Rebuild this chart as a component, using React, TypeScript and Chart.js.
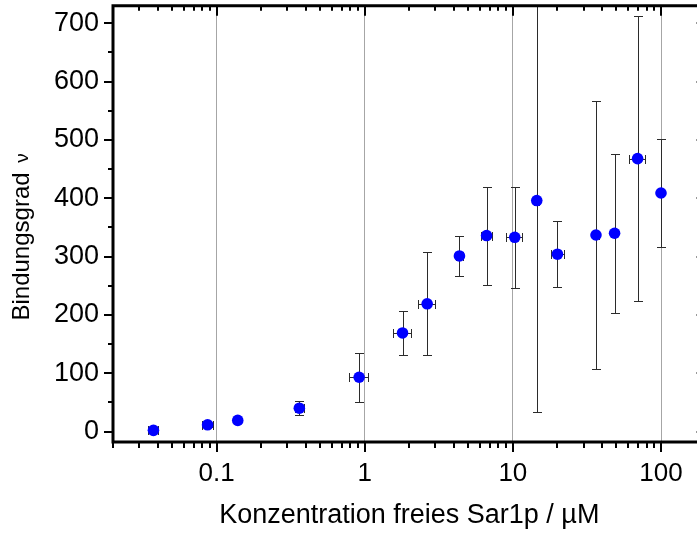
import React, { useEffect, useRef } from 'react';
import { Chart, registerables } from 'chart.js';

Chart.register(...registerables);

// ---- data ----
const xValues = [0.0375, 0.087, 0.139, 0.362, 0.917, 1.8, 2.64, 4.36, 6.65, 10.3, 14.5, 20.0, 36.4, 48.6, 69.5, 100];
const yValues = [2, 11.5, 19, 40, 93, 169, 219, 301, 336, 333, 396, 304, 337, 340, 468, 409];
const xErrors = [0.003, 0.0075, 0, 0.025, 0.13, 0.25, 0.34, 0.25, 0.6, 1.28, 0.6, 2.0, 1.5, 2.0, 9.0, 3.0];
const yErrors = [2, 3, 0, 12, 42, 37, 88, 35, 84, 87, 362, 57, 230, 136, 245, 92];

const xTickValues = [0.1, 1, 10, 100];
const xTickLabels = ['0.1', '1', '10', '100'];
const yTickValues = [0, 100, 200, 300, 400, 500, 600, 700];
const yTickLabels = ['0', '100', '200', '300', '400', '500', '600', '700'];
const yMinorTickValues = [50, 150, 250, 350, 450, 550, 650];
const xMinorMantissas = [2, 3, 4, 5, 6, 7, 8, 9];
const xMinorDecades = [0.01, 0.1, 1, 10, 100];

const xTitle = 'Konzentration freies Sar1p / µM';
const yTitleMain = 'Bindungsgrad';
const yTitleSymbol = 'ν';

const X_MIN = 0.02;
const X_MAX = 200;
const Y_MIN = -18;
const Y_MAX = 730;

const FONT = "'Liberation Sans', Arial, sans-serif";
const CANVAS_W = 712;
const CANVAS_H = 535;

const errorBarPlugin = {
  id: 'errorBars',
  beforeDatasetsDraw(chart: any) {
    const { ctx, chartArea, scales } = chart;
    const xs = scales.x;
    const ys = scales.y;
    ctx.save();
    ctx.beginPath();
    ctx.rect(chartArea.left, chartArea.top, chartArea.right - chartArea.left, chartArea.bottom - chartArea.top);
    ctx.clip();
    ctx.strokeStyle = '#2b2b2b';
    ctx.lineWidth = 1;
    const cap = 4.5;
    const seg = (x1: number, y1: number, x2: number, y2: number) => {
      ctx.beginPath();
      ctx.moveTo(x1, y1);
      ctx.lineTo(x2, y2);
      ctx.stroke();
    };
    xValues.forEach((xv, i) => {
      const px = Math.round(xs.getPixelForValue(xv)) + 0.5;
      const py = Math.round(ys.getPixelForValue(yValues[i])) + 0.5;
      const ye = yErrors[i];
      if (ye > 0) {
        const t = Math.round(ys.getPixelForValue(yValues[i] + ye)) + 0.5;
        const b = Math.round(ys.getPixelForValue(yValues[i] - ye)) + 0.5;
        seg(px, t, px, b);
        seg(px - cap, t, px + cap, t);
        seg(px - cap, b, px + cap, b);
      }
      const xe = xErrors[i];
      if (xe > 0) {
        const l = Math.round(xs.getPixelForValue(xv - xe)) + 0.5;
        const r = Math.round(xs.getPixelForValue(xv + xe)) + 0.5;
        seg(l, py, r, py);
        seg(l, py - cap, l, py + cap);
        seg(r, py - cap, r, py + cap);
      }
    });
    ctx.restore();
  },
};

const framePlugin = {
  id: 'frameTicks',
  afterDraw(chart: any) {
    const { ctx, chartArea, scales } = chart;
    const xs = scales.x;
    const ys = scales.y;
    const { left, right, top, bottom } = chartArea;
    ctx.save();
    ctx.strokeStyle = '#000';
    ctx.lineCap = 'butt';
    ctx.lineWidth = 2;
    const seg = (x1: number, y1: number, x2: number, y2: number) => {
      ctx.beginPath();
      ctx.moveTo(x1, y1);
      ctx.lineTo(x2, y2);
      ctx.stroke();
    };
    const MAJ = 9;
    const MIN = 5;
    yTickValues.forEach((v) => {
      const p = Math.round(ys.getPixelForValue(v));
      seg(left - MAJ, p, left, p);
      seg(right, p, right - MAJ, p);
    });
    yMinorTickValues.forEach((v) => {
      const p = Math.round(ys.getPixelForValue(v));
      seg(left - MIN, p, left, p);
      seg(right, p, right - MIN, p);
    });
    xTickValues.forEach((v) => {
      const p = Math.round(xs.getPixelForValue(v));
      seg(p, bottom, p, bottom + MAJ + 1);
      seg(p, top, p, top + MAJ + 1);
    });
    xMinorDecades.forEach((d) => {
      xMinorMantissas.forEach((m) => {
        const v = m * d;
        if (v < X_MIN * 0.999 || v > X_MAX * 1.001) return;
        const p = Math.round(xs.getPixelForValue(v));
        seg(p, bottom, p, bottom + MIN + 1);
        seg(p, top, p, top + MIN);
      });
    });
    ctx.lineWidth = 3;
    ctx.lineCap = 'square';
    ctx.beginPath();
    ctx.rect(left, top, right - left, bottom - top);
    ctx.stroke();
    ctx.restore();

    // y-axis title (rotated), main part plus smaller Greek symbol
    ctx.save();
    ctx.fillStyle = '#000';
    ctx.textBaseline = 'alphabetic';
    ctx.textAlign = 'left';
    const mainFont = `24px ${FONT}`;
    const symFont = `19px ${FONT}`;
    ctx.font = mainFont;
    const wMain = ctx.measureText(yTitleMain + ' ').width;
    ctx.font = symFont;
    const wSym = ctx.measureText(yTitleSymbol).width + 3;
    const total = wMain + wSym;
    const cy = (top + bottom) / 2 + 13;
    ctx.translate(29, cy + total / 2);
    ctx.rotate(-Math.PI / 2);
    ctx.font = mainFont;
    ctx.fillText(yTitleMain, 0, 0);
    ctx.font = symFont;
    ctx.fillText(yTitleSymbol, wMain + 3, -1);
    ctx.restore();
  },
};

export default function App() {
  const canvasRef = useRef<HTMLCanvasElement | null>(null);

  useEffect(() => {
    document.body.style.margin = '0';
    const canvas = canvasRef.current;
    if (!canvas) return;
    const chart = new Chart(canvas, {
      type: 'scatter',
      data: {
        datasets: [
          {
            data: xValues.map((x, i) => ({ x, y: yValues[i] })),
            backgroundColor: '#0000ff',
            borderColor: '#0000ff',
            borderWidth: 0,
            pointRadius: 5.8,
            pointHoverRadius: 5.8,
            showLine: false,
          },
        ],
      },
      options: {
        animation: false,
        responsive: false,
        devicePixelRatio: 1,
        layout: { padding: { top: 5, right: CANVAS_W - 705.6, left: 0, bottom: 0 } },
        plugins: { legend: { display: false }, tooltip: { enabled: false } },
        events: [],
        scales: {
          x: {
            type: 'logarithmic',
            position: 'bottom',
            min: X_MIN,
            max: X_MAX,
            afterBuildTicks: (s: any) => {
              s.ticks = xTickValues.map((v) => ({ value: v }));
            },
            afterFit: (s: any) => {
              s.height = 93;
              s.paddingLeft = 0;
              s.paddingRight = 0;
              s.paddingTop = 0;
              s.paddingBottom = 0;
            },
            ticks: {
              autoSkip: false,
              maxRotation: 0,
              minRotation: 0,
              padding: 16,
              color: '#000',
              font: { family: FONT, size: 26 },
              callback: (v: any) => {
                const i = xTickValues.findIndex((t) => Math.abs(Math.log10(t) - Math.log10(Number(v))) < 1e-6);
                return i >= 0 ? xTickLabels[i] : '';
              },
            },
            grid: { display: true, drawOnChartArea: true, drawTicks: false, color: '#a6a6a6', lineWidth: 1 },
            border: { display: false },
            title: {
              display: true,
              text: xTitle,
              color: '#000',
              font: { family: FONT, size: 27 },
              padding: { top: 0, bottom: 3 },
            },
          },
          y: {
            type: 'linear',
            position: 'left',
            min: Y_MIN,
            max: Y_MAX,
            afterBuildTicks: (s: any) => {
              s.ticks = yTickValues.map((v) => ({ value: v }));
            },
            afterFit: (s: any) => {
              s.width = 113;
              s.paddingLeft = 0;
              s.paddingRight = 0;
              s.paddingTop = 0;
              s.paddingBottom = 0;
            },
            ticks: {
              padding: 14,
              color: '#000',
              font: { family: FONT, size: 27 },
              callback: (v: any) => {
                const i = yTickValues.indexOf(Number(v));
                return i >= 0 ? yTickLabels[i] : '';
              },
            },
            grid: { display: false, drawTicks: false },
            border: { display: false },
            title: { display: false },
          },
        },
      },
      plugins: [errorBarPlugin, framePlugin],
    } as any);
    return () => chart.destroy();
  }, []);

  return (
    <div style={{ width: 697, height: 535, overflow: 'hidden', position: 'relative', background: '#fff' }}>
      <canvas ref={canvasRef} width={CANVAS_W} height={CANVAS_H} style={{ display: 'block', width: CANVAS_W, height: CANVAS_H }} />
    </div>
  );
}
